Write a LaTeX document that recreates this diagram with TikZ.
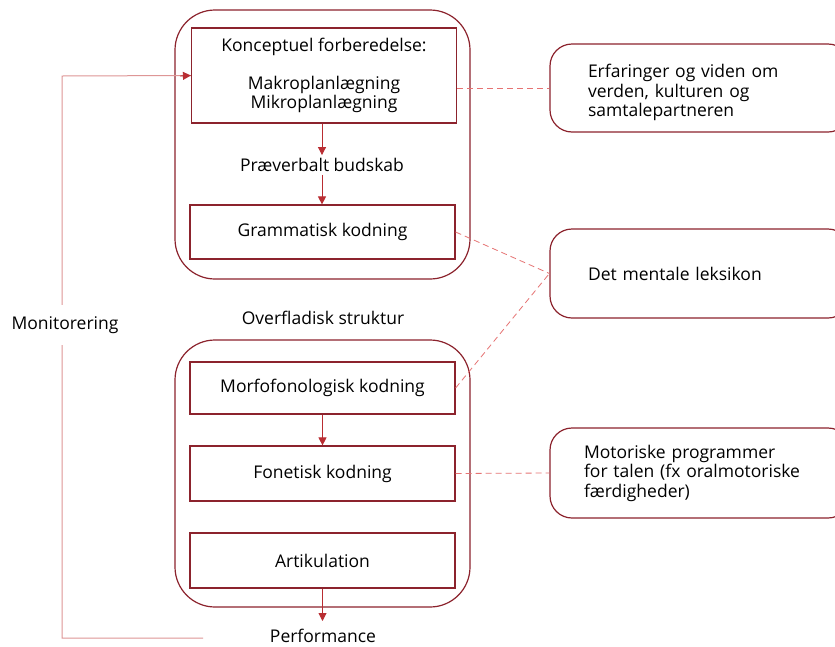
\documentclass[tikz,border=0pt]{standalone}
\usepackage{fontspec}
\setmainfont{Open Sans}
\usetikzlibrary{arrows.meta}
\definecolor{boxc}{RGB}{140,35,45}
\definecolor{arrc}{RGB}{185,45,50}
\definecolor{monc}{RGB}{222,150,150}
\definecolor{dashc}{RGB}{230,115,115}
\tikzset{
  inbox/.style={draw=boxc, line width=1.2pt, minimum width=265pt, align=center, font=\fontsize{17.5}{19.5}\selectfont, inner sep=0pt},
  outer/.style={draw=boxc, line width=1.2pt, rounded corners=40pt, minimum width=295pt},
  sidebox/.style={draw=boxc, line width=1.2pt, rounded corners=22pt, align=left, font=\fontsize{17.5}{19.5}\selectfont, inner ysep=0pt},
  lbl/.style={font=\fontsize{17.5}{19.5}\selectfont, inner sep=3pt},
  arr/.style={draw=arrc, line width=0.9pt, -{Triangle[length=8pt,width=8pt]}},
  dline/.style={draw=dashc, line width=0.8pt, dash pattern=on 6pt off 4pt},
  mline/.style={draw=monc, line width=1pt}
}
\begin{document}
\begin{tikzpicture}[x=1pt,y=-1pt]
\path[use as bounding box, clip] (0,0) rectangle (835,646);
\fill[white] (0,0) rectangle (835,646);
% containers
\node[outer, minimum height=269pt] (top) at (322.5,144.5) {};
\node[outer, minimum height=267pt] (bot) at (322.5,473.5) {};
% inner boxes
\node[inbox, minimum height=95pt] (konc) at (324,75.5) {Konceptuel forberedelse:\\[18.5pt]Makroplanlægning\\Mikroplanlægning};
\node[lbl] (prae) at (322,165) {Præverbalt budskab};
\node[inbox, minimum height=54pt] (gram) at (322.5,232) {Grammatisk kodning};
\node[lbl] (over) at (323,318) {Overfladisk struktur};
\node[inbox, minimum height=52pt] (morf) at (322.5,388) {Morfofonologisk kodning};
\node[inbox, minimum height=55pt] (fon) at (322.5,473.5) {Fonetisk kodning};
\node[inbox, minimum height=55pt] (art) at (322.5,560.5) {Artikulation};
\node[lbl] (perf) at (323,636) {Performance};
% side boxes
\node[sidebox, minimum height=88pt, inner xsep=38pt, text width=224pt] (erf) at (700,88) {\rule{0pt}{23pt}Erfaringer og viden om\\verden, kulturen og\\samtalepartneren};
\node[sidebox, minimum height=89pt, inner xsep=38pt, text width=224pt] (leks) at (700,273.5) {Det mentale leksikon};
\node[sidebox, minimum height=90pt, inner xsep=34pt, text width=232pt] (mot) at (700,473) {Motoriske programmer\\for talen (fx oralmotoriske\\færdigheder)};
% arrows
\draw[arr] (konc.south -| prae.north) -- (prae.north);
\draw[arr] (prae.south) -- (prae.south |- gram.north);
\draw[arr] (morf.south) -- (fon.north);
\draw[arr] (art.south) -- (art.south |- 0,621);
% monitoring loop
\coordinate (ms) at (203,638);
\draw[mline] (ms) -- (62,638) -- (62,76) -- (konc.west);
\draw[arr] (180,76) -- (konc.west);
\node[lbl, fill=white, inner xsep=1pt, inner ysep=11pt] (mon) at (65,325) {Monitorering};
% dashed links
\draw[dline] (konc.east |- erf.west) -- (erf.west);
\draw[dline] (gram.east) -- (leks.west);
\draw[dline] (morf.east) -- (leks.west);
\draw[dline] (fon.east) -- (mot.west);
\end{tikzpicture}
\end{document}
